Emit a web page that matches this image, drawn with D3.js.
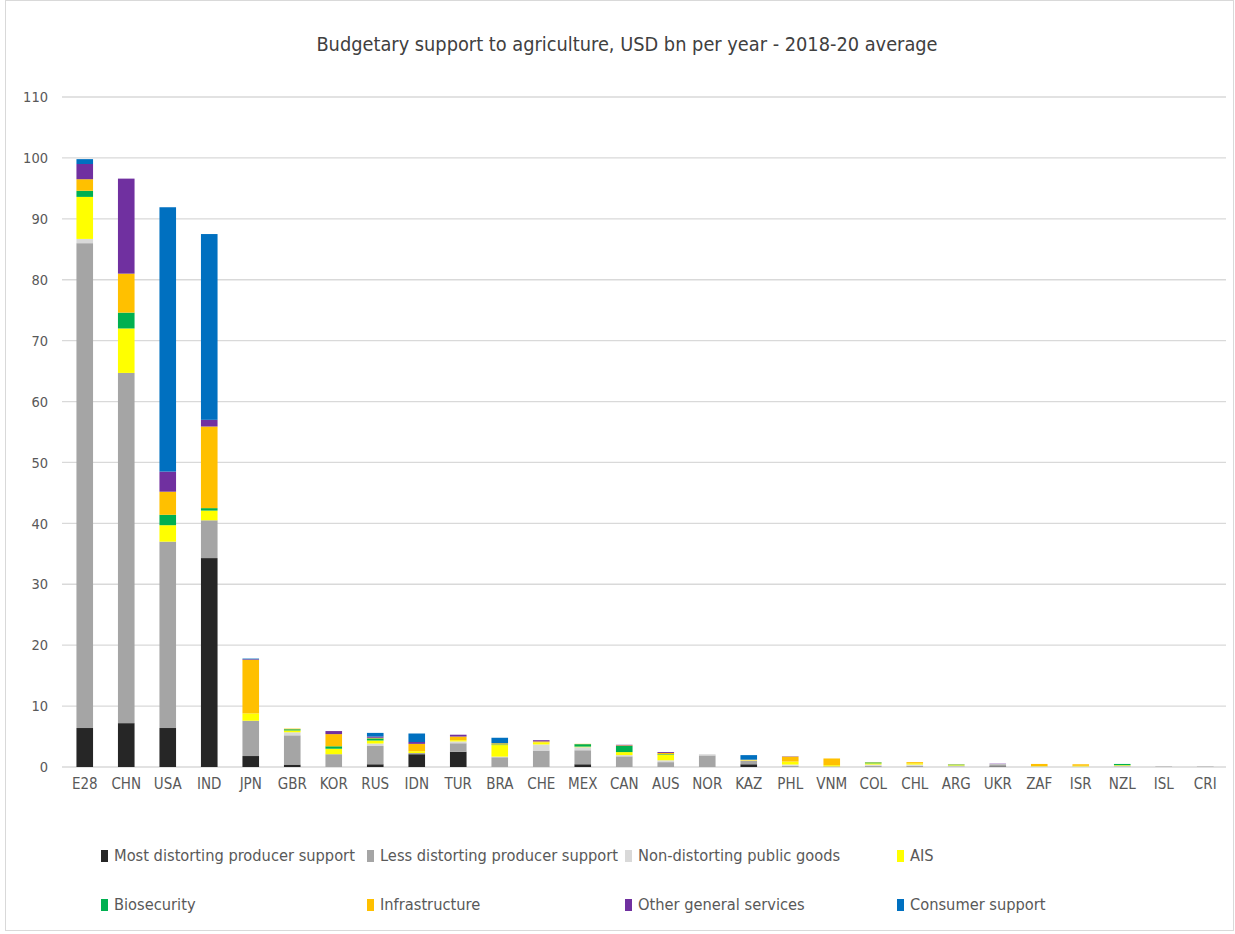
<!DOCTYPE html>
<html><head><meta charset="utf-8">
<script src="https://cdn.jsdelivr.net/npm/d3@7"></script>
<style>
body{margin:0;background:#fff;}
text{font-family:"Liberation Sans Narrow","DejaVu Sans Condensed","Arial Narrow",sans-serif;}
</style></head>
<body><svg id="c" width="1235" height="934"></svg>
<script>
const categories = ["E28","CHN","USA","IND","JPN","GBR","KOR","RUS","IDN","TUR","BRA","CHE","MEX","CAN","AUS","NOR","KAZ","PHL","VNM","COL","CHL","ARG","UKR","ZAF","ISR","NZL","ISL","CRI"];
const mostDistorting = [6.4,7.2,6.4,34.3,1.8,0.4,0,0.45,2.1,2.5,0,0,0.45,0,0,0,0.45,0,0,0,0,0,0.1,0,0,0,0,0];
const lessDistorting = [79.6,57.5,30.6,6.2,5.8,4.8,2.1,3.0,0.2,1.4,1.6,2.7,2.3,1.75,0.8,1.9,0.55,0.2,0.1,0.2,0.2,0.1,0.35,0.05,0.05,0.1,0.1,0.08];
const nonDistorting = [0.7,0,0,0,0,0.5,0,0.4,0,0.3,0.1,1.0,0.5,0.2,0.3,0.2,0.05,0.2,0,0.2,0.2,0.1,0.05,0.05,0.05,0.1,0.05,0.02];
const ais = [6.9,7.3,2.7,1.6,1.2,0.3,0.9,0.5,0.3,0.2,1.9,0.35,0.1,0.5,0.9,0,0.05,0.5,0.2,0.2,0.2,0.1,0,0.05,0.1,0.1,0,0];
const biosecurity = [1.0,2.6,1.7,0.4,0,0.2,0.4,0.35,0,0,0.1,0,0.4,1.0,0.1,0,0,0,0,0.15,0,0.1,0,0,0,0.2,0,0];
const infrastructure = [1.9,6.4,3.8,13.4,8.8,0.1,2.0,0.1,1.2,0.6,0.2,0.15,0.05,0.1,0.2,0,0.1,0.8,1.1,0.05,0.2,0.05,0,0.35,0.25,0,0,0];
const otherGeneral = [2.5,15.6,3.3,1.1,0.1,0,0.5,0.2,0.3,0.3,0,0.2,0,0.1,0.15,0,0,0.05,0,0,0,0,0.05,0,0,0,0,0];
const consumerSupport = [0.8,0,43.4,30.5,0.1,0,0,0.6,1.4,0,0.9,0,0,0,0,0,0.75,0,0,0,0,0,0,0,0,0,0,0];
const seriesNames = ["Most distorting producer support","Less distorting producer support","Non-distorting public goods","AIS","Biosecurity","Infrastructure","Other general services","Consumer support"];
const seriesValues = [mostDistorting,lessDistorting,nonDistorting,ais,biosecurity,infrastructure,otherGeneral,consumerSupport];
const colors = ["#262626","#a5a5a5","#d9d9d9","#ffff00","#00b050","#ffc000","#7030a0","#0070c0"];
const yTicks = [0,10,20,30,40,50,60,70,80,90,100,110];
const title = "Budgetary support to agriculture, USD bn per year - 2018-20 average";

const svg = d3.select("#c");
svg.append("rect").attr("x",5.5).attr("y",0.5).attr("width",1228).attr("height",930)
  .attr("fill","#fff").attr("stroke","#d9d9d9");

const m = {l:64, r:1226, t:97, b:767};
const keys = seriesNames;
const table = categories.map((c,i)=>{const o={cat:c}; keys.forEach((k,j)=>o[k]=seriesValues[j][i]); return o;});
const x = d3.scaleBand().domain(categories).range([m.l,m.r]).paddingInner(0.6).paddingOuter(0.3);
const y = d3.scaleLinear().domain([0,110]).range([m.b,m.t]);

// grid
const g = svg.append("g");
g.selectAll("line.grid").data(yTicks).join("line")
  .attr("x1",m.l-2).attr("x2",m.r).attr("y1",d=>y(d)).attr("y2",d=>y(d))
  .attr("stroke","#d9d9d9").attr("stroke-width",1.3);

// y axis labels
const yAxis = d3.axisLeft(y).tickValues(yTicks).tickSize(0).tickPadding(16);
const ya = svg.append("g").attr("transform",`translate(${m.l},0)`).call(yAxis);
ya.select(".domain").remove();
ya.selectAll("text").attr("fill","#595959").style("font-size","14.5px");

// x axis labels
const xAxis = d3.axisBottom(x).tickSize(0).tickPadding(11);
const xa = svg.append("g").attr("transform",`translate(0,${m.b})`).call(xAxis);
xa.select(".domain").remove();
xa.selectAll("text").attr("fill","#595959").style("font-size","15px");

// bars
const stack = d3.stack().keys(keys)(table);
svg.append("g").selectAll("g").data(stack).join("g")
  .attr("fill",(d,i)=>colors[i])
  .selectAll("rect").data(d=>d).join("rect")
  .attr("x",d=>x(d.data.cat)).attr("width",x.bandwidth())
  .attr("y",d=>y(d[1])).attr("height",d=>Math.max(0,y(d[0])-y(d[1])));

// title
svg.append("text").attr("x",627).attr("y",51).attr("text-anchor","middle")
  .attr("fill","#404040").style("font-size","19.8px").text(title);

// legend
const legX = [101,367,625,897], legY = [856,905];
const lg = svg.append("g").selectAll("g").data(seriesNames).join("g")
  .attr("transform",(d,i)=>`translate(${legX[i%4]},${legY[Math.floor(i/4)]})`);
lg.append("rect").attr("x",0).attr("y",-6).attr("width",7).attr("height",12).attr("fill",(d,i)=>colors[i]);
lg.append("text").attr("x",13).attr("y",5).attr("fill","#595959").style("font-size","16.3px").text(d=>d);
</script></body></html>
